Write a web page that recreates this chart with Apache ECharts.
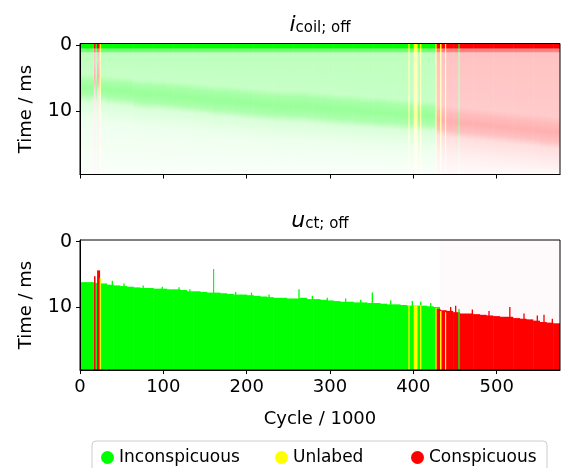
<!DOCTYPE html>
<html>
<head>
<meta charset="utf-8">
<script src="https://cdn.jsdelivr.net/npm/echarts@6/dist/echarts.min.js"></script>
<style>
html, body { margin: 0; padding: 0; background: #fff; }
#main { width: 561px; height: 468px; }
</style>
</head>
<body>
<div id="main"></div>
<script>
// columns of 8 cycles (x1000), class per column: 0 inconspicuous, 1 unlabed, 2 conspicuous
const COL_W = 8;
const colClass = [
  0, 0, 0, 0, 0, 0, 0, 0, 0, 0, 0, 0, 0, 0, 0, 0, 0, 0,
  0, 0, 0, 0, 0, 0, 0, 0, 0, 0, 0, 0, 0, 0, 0, 0, 0, 0,
  0, 0, 0, 0, 0, 0, 0, 0, 0, 0, 0, 0, 0, 0, 0, 0, 0, 0,
  2, 2, 2, 2, 2, 2, 2, 2, 2, 2, 2, 2, 2, 2, 2, 2, 2, 2
];
// u_ct;off : time (ms) where the signal switches off
const colOnset = [
  6.2, 6.2, 6.3, 6.4, 6.6, 6.7, 6.8, 6.9, 7.0, 7.1, 7.1, 7.2, 7.2, 7.3, 7.3, 7.4, 7.6, 7.6,
  7.7, 7.8, 7.8, 7.9, 8.0, 8.1, 8.1, 8.2, 8.3, 8.4, 8.5, 8.6, 8.6, 8.7, 8.7, 8.6, 8.8, 8.8,
  8.9, 9.0, 9.1, 9.2, 9.2, 9.3, 9.3, 9.4, 9.4, 9.5, 9.6, 9.6, 9.7, 9.8, 9.8, 9.8, 9.9, 10.0,
  10.5, 10.6, 10.8, 11.0, 11.0, 11.1, 11.2, 11.3, 11.4, 11.5, 11.5, 11.7, 11.8, 11.9, 12.1, 12.3, 12.4, 12.5
];
// i_coil;off : dense band (ms)
const bandStart = [
  5.6, 5.6, 5.6, 5.8, 5.9, 6.0, 6.0, 6.1, 6.3, 6.4, 6.4, 6.5, 6.5, 6.6, 6.7, 6.8, 6.9, 7.0,
  7.1, 7.2, 7.3, 7.3, 7.4, 7.5, 7.6, 7.7, 7.8, 7.9, 8.0, 8.0, 8.1, 8.1, 8.1, 8.1, 8.2, 8.3,
  8.4, 8.5, 8.6, 8.7, 8.7, 8.8, 8.9, 9.0, 9.0, 9.1, 9.2, 9.3, 9.4, 9.5, 9.6, 9.6, 9.7, 9.7,
  10.3, 10.5, 10.6, 10.7, 10.8, 10.9, 11.0, 11.1, 11.2, 11.3, 11.4, 11.5, 11.6, 11.7, 11.8, 11.9, 12.0, 12.1
];
const bandEnd = [
  7.4, 7.4, 7.4, 7.6, 7.8, 7.9, 8.0, 8.1, 8.4, 8.5, 8.6, 8.6, 8.7, 8.8, 8.9, 9.0, 9.1, 9.2,
  9.3, 9.4, 9.6, 9.6, 9.7, 9.8, 9.9, 10.0, 10.1, 10.2, 10.3, 10.4, 10.4, 10.5, 10.5, 10.5, 10.6, 10.7,
  10.8, 10.9, 11.0, 11.1, 11.1, 11.2, 11.3, 11.3, 11.4, 11.5, 11.5, 11.6, 11.7, 11.8, 11.8, 11.8, 11.9, 11.9,
  12.6, 12.8, 12.9, 13.0, 13.1, 13.2, 13.3, 13.4, 13.5, 13.6, 13.7, 13.8, 13.9, 14.0, 14.1, 14.3, 14.4, 14.5
];

// narrow stripes drawn over the columns
const stripeX = [16.8, 20.5, 23.5, 159.6, 394, 400.5, 408, 426.5, 428, 432, 438, 454];
const stripeW = [1.2, 3, 1, 0.8, 1, 4, 1, 1.5, 4, 1.2, 0.8, 1];
const stripeClass = [2, 2, 1, 0, 1, 1, 1, 1, 2, 1, 1, 0];
const stripeOnset = [5.3, 4.4, 5.6, 4.2, 9.8, 9.8, 9.7, 10.2, 10.3, 10.6, 10.8, 10.3];
const stripeBandStart = [3.8, 3.6, 5.0, 7.3, 9.5, 9.6, 9.6, 9.8, 10.2, 10.3, 10.5, 10.6];
const stripeBandEnd = [5.6, 5.8, 6.8, 9.6, 11.8, 11.8, 11.8, 12.0, 12.5, 12.6, 12.8, 12.9];

// single early switch-off cycles in u_ct;off
const spikeX = [38, 52, 75, 98, 118, 131, 186, 205, 226, 262, 278, 296, 318, 336, 350, 372, 398, 408, 420,
  444, 450, 470, 490, 515, 532, 548, 556, 566];
const spikeOnset = [6.0, 6.4, 6.7, 6.9, 7.0, 7.3, 7.7, 7.8, 8.1, 7.3, 8.3, 8.6, 8.7, 8.9, 7.8, 9.0, 9.1, 9.2, 9.4,
  10.0, 9.8, 10.4, 10.6, 10.0, 11.0, 11.3, 11.2, 11.8];

const classNames = ["Inconspicuous", "Unlabed", "Conspicuous"];
const classRGB = [[0, 255, 0], [255, 255, 0], [255, 0, 0]];
const legendLeft = [101, 275, 411];
const xTicks = [0, 100, 200, 300, 400, 500];
const yTicks = [0, 10];

const X_MAX = 576;
const Y_MIN = -0.25;
const Y_MAX = 19.65;
const FONT = "DejaVu Sans";

// alpha levels on white for the i_coil panel
const profiles = [
  { head: 0.55, upper: 0.26, band: 0.4, post: 0.15 },
  { head: 0.6, upper: 0.28, band: 0.4, post: 0.15 },
  { head: 0.5, upper: 0.24, band: 0.31, post: 0.13 }
];

function mix(cls, a) {
  const c = classRGB[cls].map(v => Math.round(255 + a * (v - 255)));
  return "rgb(" + c.join(",") + ")";
}

function renderTop(params, api) {
  const x0 = api.value(0), x1 = api.value(1), cls = api.value(2);
  const b0 = api.value(3), b1 = api.value(4);
  const pA = api.coord([x0, Y_MIN]);
  const pB = api.coord([x1, Y_MAX]);
  const h = pB[1] - pA[1];
  const off = v => Math.min(1, Math.max(0, (api.coord([x0, v])[1] - pA[1]) / h));
  const p = profiles[cls];
  const stops = [
    [Y_MIN, 1], [0.45, 1], [0.55, p.head], [1.0, p.head], [1.15, p.upper],
    [b0 - 1.2, p.upper * 0.85], [b0 - 0.2, p.band * 0.85], [(b0 + b1) / 2, p.band],
    [b1 + 0.2, p.band * 0.8], [b1 + 1.2, p.post], [b1 + 4, p.post * 0.45], [Y_MAX, 0.02]
  ]
    .map(s => ({ offset: off(s[0]), color: mix(cls, s[1]) }))
    .sort((a, b) => a.offset - b.offset);
  return {
    type: "rect",
    shape: { x: pA[0], y: pA[1], width: Math.max(1, pB[0] - pA[0] + 0.5), height: h },
    style: { fill: new echarts.graphic.LinearGradient(0, 0, 0, 1, stops) }
  };
}

function renderBottom(params, api) {
  const x0 = api.value(0), x1 = api.value(1), cls = api.value(2), on = api.value(3);
  const pA = api.coord([x0, Y_MIN]);
  const pOn = api.coord([x0, on]);
  const pB = api.coord([x1, Y_MAX]);
  const w = Math.max(1, pB[0] - pA[0] + 0.5);
  const children = [];
  if (cls === 2 && params.seriesName === "bottomCols") {
    children.push({ type: "rect", shape: { x: pA[0], y: pA[1], width: w, height: pOn[1] - pA[1] }, style: { fill: "#fefafb" } });
  }
  children.push({ type: "rect", shape: { x: pA[0], y: pOn[1], width: w, height: pB[1] - pOn[1] }, style: { fill: mix(cls, 1) } });
  return { type: "group", children: children };
}

const topCols = colClass.map((c, i) => [i * COL_W, (i + 1) * COL_W, c, bandStart[i], bandEnd[i]]);
const topStripes = stripeX.map((x, i) => [x, x + stripeW[i], stripeClass[i], stripeBandStart[i], stripeBandEnd[i]]);
const bottomCols = colClass.map((c, i) => [i * COL_W, (i + 1) * COL_W, c, colOnset[i]]);
const bottomSpikes = spikeX.map((x, i) => [x, x + 1, colClass[Math.floor(x / COL_W)], spikeOnset[i]]);
const bottomStripes = stripeX.map((x, i) => [x, x + stripeW[i], stripeClass[i], stripeOnset[i]]);

function xAxis(gridIndex, labels) {
  return {
    type: "value", gridIndex: gridIndex, min: 0, max: X_MAX, z: 6,
    splitLine: { show: false },
    axisLine: { show: true, onZero: false, lineStyle: { color: "#000", width: 1 } },
    axisTick: { show: true, length: 4, customValues: xTicks, lineStyle: { color: "#000" } },
    axisLabel: { show: labels, customValues: xTicks, margin: 8, color: "#000", fontSize: 18, fontFamily: FONT },
    name: labels ? "Cycle / 1000" : "",
    nameLocation: "middle", nameGap: 40,
    nameTextStyle: { color: "#000", fontSize: 18, fontFamily: FONT }
  };
}

function yAxis(gridIndex) {
  return {
    type: "value", gridIndex: gridIndex, inverse: true, min: Y_MIN, max: Y_MAX, z: 6,
    splitLine: { show: false },
    axisLine: { show: true, onZero: false, lineStyle: { color: "#000", width: 1 } },
    axisTick: { show: true, length: 4, customValues: yTicks, lineStyle: { color: "#000" } },
    axisLabel: { customValues: yTicks, margin: 8, color: "#000", fontSize: 19, fontFamily: FONT },
    name: "Time / ms", nameLocation: "middle", nameGap: 45, nameRotate: 90,
    nameTextStyle: { color: "#000", fontSize: 18, fontFamily: FONT }
  };
}

function title(sym, sub, y) {
  return {
    type: "text", x: 320, y: y, z: 10,
    style: {
      text: "{v|" + sym + "}{s|" + sub + "}",
      align: "center", verticalAlign: "middle", fill: "#000",
      rich: {
        v: { fontSize: 22, fontStyle: "italic", fontFamily: FONT, lineHeight: 22, fill: "#000" },
        s: { fontSize: 15, fontFamily: FONT, lineHeight: 9, verticalAlign: "bottom", fill: "#000" }
      }
    }
  };
}

function legend(i) {
  return {
    left: legendLeft[i], top: 449, padding: 0, itemWidth: 13, itemHeight: 13, icon: "circle",
    selectedMode: false, data: [classNames[i]],
    textStyle: { color: "#000", fontSize: 17, fontFamily: FONT }
  };
}

const myChart = echarts.init(document.getElementById("main"), null, { renderer: "canvas" });
myChart.setOption({
  animation: false,
  backgroundColor: "#fff",
  grid: [
    { left: 80, top: 43.5, width: 480, height: 131, show: true, z: 5, backgroundColor: "transparent", borderColor: "#000", borderWidth: 1 },
    { left: 80, top: 240, width: 480, height: 130, show: true, z: 5, backgroundColor: "transparent", borderColor: "#000", borderWidth: 1 }
  ],
  xAxis: [xAxis(0, false), xAxis(1, true)],
  yAxis: [yAxis(0), yAxis(1)],
  graphic: [
    title("i", "coil; off", 25),
    title("u", "ct; off", 221),
    { type: "rect", x: 92, y: 441, z: 1, shape: { width: 455, height: 40, r: 4 }, style: { fill: "#fff", stroke: "#cccccc", lineWidth: 1 } }
  ],
  legend: [legend(0), legend(1), legend(2)],
  series: [
    { type: "custom", name: "topCols", xAxisIndex: 0, yAxisIndex: 0, clip: true, renderItem: renderTop, encode: { x: [0, 1], y: [3, 4] }, data: topCols },
    { type: "custom", name: "topStripes", xAxisIndex: 0, yAxisIndex: 0, clip: true, renderItem: renderTop, encode: { x: [0, 1], y: [3, 4] }, data: topStripes },
    { type: "custom", name: "bottomCols", xAxisIndex: 1, yAxisIndex: 1, clip: true, renderItem: renderBottom, encode: { x: [0, 1], y: 3 }, data: bottomCols },
    { type: "custom", name: "bottomSpikes", xAxisIndex: 1, yAxisIndex: 1, clip: true, renderItem: renderBottom, encode: { x: [0, 1], y: 3 }, data: bottomSpikes },
    { type: "custom", name: "bottomStripes", xAxisIndex: 1, yAxisIndex: 1, clip: true, renderItem: renderBottom, encode: { x: [0, 1], y: 3 }, data: bottomStripes },
    { type: "scatter", name: classNames[0], xAxisIndex: 1, yAxisIndex: 1, data: [], itemStyle: { color: mix(0, 1), opacity: 1 } },
    { type: "scatter", name: classNames[1], xAxisIndex: 1, yAxisIndex: 1, data: [], itemStyle: { color: mix(1, 1), opacity: 1 } },
    { type: "scatter", name: classNames[2], xAxisIndex: 1, yAxisIndex: 1, data: [], itemStyle: { color: mix(2, 1), opacity: 1 } }
  ]
});
</script>
</body>
</html>
